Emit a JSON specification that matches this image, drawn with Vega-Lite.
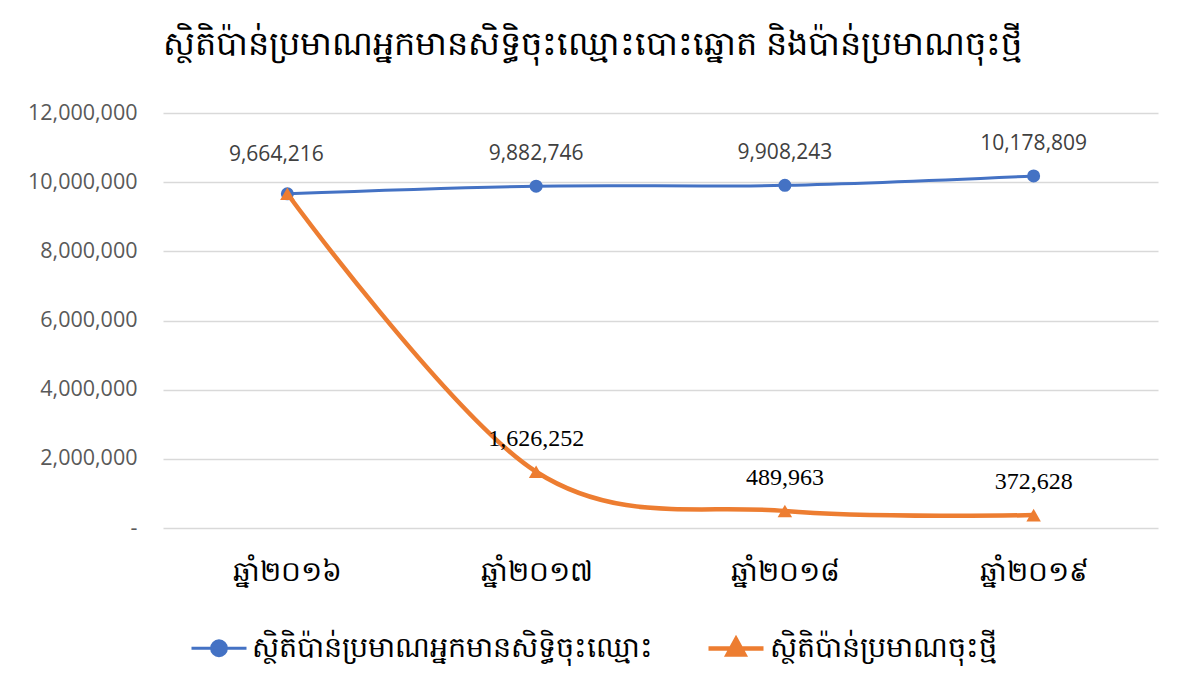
{
  "$schema": "https://vega.github.io/schema/vega-lite/v6.json",
  "width": 995,
  "height": 415,
  "autosize": {"type": "none"},
  "padding": {"left": 163, "top": 113, "right": 29, "bottom": 167},
  "background": "white",
  "title": {
    "text": "ស្ថិតិប៉ាន់ប្រមាណអ្នកមានសិទ្ធិចុះឈ្មោះបោះឆ្នោត និងប៉ាន់ប្រមាណចុះថ្មី",
    "font": "Noto Sans",
    "fontSize": 33.5,
    "fontWeight": "normal",
    "color": "#000000",
    "anchor": "middle",
    "frame": "bounds",
    "offset": 40
  },
  "data": {
    "values": [
      {"year": "ឆ្នាំ២០១៦", "series": "ស្ថិតិប៉ាន់ប្រមាណអ្នកមានសិទ្ធិចុះឈ្មោះ", "value": 9664216, "label": "9,664,216"},
      {"year": "ឆ្នាំ២០១៧", "series": "ស្ថិតិប៉ាន់ប្រមាណអ្នកមានសិទ្ធិចុះឈ្មោះ", "value": 9882746, "label": "9,882,746"},
      {"year": "ឆ្នាំ២០១៨", "series": "ស្ថិតិប៉ាន់ប្រមាណអ្នកមានសិទ្ធិចុះឈ្មោះ", "value": 9908243, "label": "9,908,243"},
      {"year": "ឆ្នាំ២០១៩", "series": "ស្ថិតិប៉ាន់ប្រមាណអ្នកមានសិទ្ធិចុះឈ្មោះ", "value": 10178809, "label": "10,178,809"},
      {"year": "ឆ្នាំ២០១៦", "series": "ស្ថិតិប៉ាន់ប្រមាណចុះថ្មី", "value": 9664216, "label": ""},
      {"year": "ឆ្នាំ២០១៧", "series": "ស្ថិតិប៉ាន់ប្រមាណចុះថ្មី", "value": 1626252, "label": "1,626,252"},
      {"year": "ឆ្នាំ២០១៨", "series": "ស្ថិតិប៉ាន់ប្រមាណចុះថ្មី", "value": 489963, "label": "489,963"},
      {"year": "ឆ្នាំ២០១៩", "series": "ស្ថិតិប៉ាន់ប្រមាណចុះថ្មី", "value": 372628, "label": "372,628"}
    ]
  },
  "encoding": {
    "x": {
      "field": "year",
      "type": "ordinal",
      "sort": null,
      "scale": {"type": "point", "padding": 0.5},
      "axis": {
        "title": null,
        "labelAngle": 0,
        "domain": false,
        "ticks": false,
        "labelFont": "Noto Sans",
        "labelFontSize": 28,
        "labelColor": "#000000",
        "labelPadding": 30
      }
    },
    "y": {
      "field": "value",
      "type": "quantitative",
      "scale": {"domain": [0, 12000000], "nice": false},
      "axis": {
        "title": null,
        "values": [0, 2000000, 4000000, 6000000, 8000000, 10000000, 12000000],
        "labelExpr": "datum.value == 0 ? '-' : format(datum.value, ',')",
        "domain": false,
        "ticks": false,
        "labelFont": "Open Sans",
        "labelFontSize": 21.5,
        "labelColor": "#595959",
        "labelPadding": 26,
        "gridColor": "#D9D9D9",
        "gridWidth": 1.5
      }
    },
    "color": {
      "field": "series",
      "type": "nominal",
      "sort": null,
      "scale": {
        "domain": ["ស្ថិតិប៉ាន់ប្រមាណអ្នកមានសិទ្ធិចុះឈ្មោះ", "ស្ថិតិប៉ាន់ប្រមាណចុះថ្មី"],
        "range": ["#4472C4", "#ED7D31"]
      }
    }
  },
  "layer": [
    {
      "mark": {"type": "line", "interpolate": "cardinal", "tension": 0},
      "encoding": {
        "strokeWidth": {
          "field": "series",
          "type": "nominal",
          "scale": {"domain": ["ស្ថិតិប៉ាន់ប្រមាណអ្នកមានសិទ្ធិចុះឈ្មោះ", "ស្ថិតិប៉ាន់ប្រមាណចុះថ្មី"], "range": [3, 4.5]},
          "legend": null
        },
        "color": {
          "field": "series",
          "type": "nominal",
          "sort": null,
          "legend": {
            "title": null,
            "orient": "none",
            "direction": "horizontal",
            "legendX": 27,
            "legendY": 505,
            "labelFont": "Noto Sans",
            "labelFontSize": 28.5,
            "labelColor": "#000000",
            "labelLimit": 800,
            "labelOffset": 4,
            "columnPadding": 46,
            "symbolSize": 3025,
            "symbolStrokeWidth": 3,
            "encode": {
              "symbols": {
                "update": {
                  "shape": {"signal": "datum.value == 'ស្ថិតិប៉ាន់ប្រមាណចុះថ្មី' ? 'M-1,0L1,0M0,-0.33L0.3,0.22L-0.3,0.22Z' : 'M-1,0L1,0M-0.27,0A0.27,0.27 0 1,0 0.27,0A0.27,0.27 0 1,0 -0.27,0Z'"},
                  "fill": {"signal": "datum.value == 'ស្ថិតិប៉ាន់ប្រមាណចុះថ្មី' ? '#ED7D31' : '#4472C4'"},
                  "fillOpacity": {"value": 1},
                  "strokeWidth": {"value": 3}
                }
              }
            }
          }
        }
      }
    },
    {
      "transform": [{"filter": "datum.series == 'ស្ថិតិប៉ាន់ប្រមាណអ្នកមានសិទ្ធិចុះឈ្មោះ'"}],
      "mark": {"type": "point", "shape": "circle", "filled": true, "size": 170, "opacity": 1}
    },
    {
      "transform": [{"filter": "datum.series == 'ស្ថិតិប៉ាន់ប្រមាណចុះថ្មី'"}],
      "mark": {"type": "point", "shape": "triangle-up", "filled": true, "size": 210, "opacity": 1}
    },
    {
      "transform": [{"filter": "datum.series == 'ស្ថិតិប៉ាន់ប្រមាណអ្នកមានសិទ្ធិចុះឈ្មោះ' && datum.year != 'ឆ្នាំ២០១៦'"}],
      "mark": {"type": "text", "dy": -32, "font": "Open Sans", "fontSize": 21},
      "encoding": {"text": {"field": "label"}, "color": {"value": "#404040"}}
    },
    {
      "transform": [{"filter": "datum.series == 'ស្ថិតិប៉ាន់ប្រមាណអ្នកមានសិទ្ធិចុះឈ្មោះ' && datum.year == 'ឆ្នាំ២០១៦'"}],
      "mark": {"type": "text", "dy": -39, "dx": -11, "font": "Open Sans", "fontSize": 21},
      "encoding": {"text": {"field": "label"}, "color": {"value": "#404040"}}
    },
    {
      "transform": [{"filter": "datum.series == 'ស្ថិតិប៉ាន់ប្រមាណចុះថ្មី' && datum.label != ''"}],
      "mark": {"type": "text", "dy": -33, "font": "Liberation Serif", "fontSize": 24},
      "encoding": {"text": {"field": "label"}, "color": {"value": "#000000"}}
    }
  ],
  "config": {
    "view": {"stroke": null}
  }
}
